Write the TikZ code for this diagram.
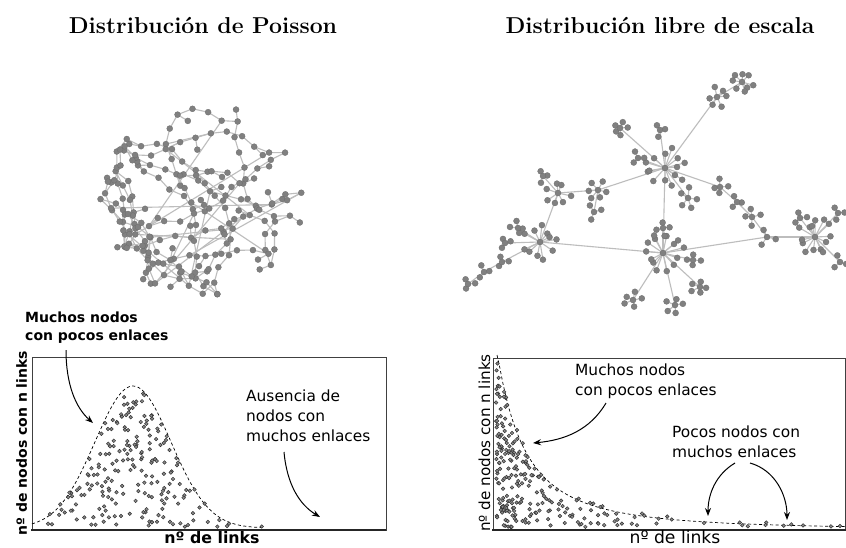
\documentclass[tikz,border=0pt]{standalone}
\usepackage{fontspec}
\setsansfont{DejaVu Sans}
\usetikzlibrary{arrows.meta}
\definecolor{netgray}{HTML}{808080}
\definecolor{linkgray}{HTML}{BDBDBD}
\definecolor{dotgray}{HTML}{8C8C8C}
\pgfdeclarelayer{paper}
\pgfdeclarelayer{edges}
\pgfsetlayers{paper,edges,main}

\tikzset{
  vert/.style={circle, fill=netgray, draw=netgray!85!black, line width=0.3pt,
               minimum size=6pt, inner sep=0pt},
  link/.style={draw=linkgray, line width=1.1pt},
  pdot/.style={fill=dotgray, draw=black!80, line width=0.5pt},
  trend/.style={black, line width=0.7pt, dash pattern=on 3pt off 2.5pt},
  frame/.style={draw=black!75, line width=0.8pt},
  xaxis/.style={draw=black!85, line width=2pt},
  callout/.style={-{Stealth[length=8pt,width=6pt]}, line width=1pt, black},
  title/.style={font={\bfseries\fontsize{23}{27}\selectfont}, inner sep=0pt},
  boldnote/.style={font={\sffamily\bfseries\fontsize{14}{17.5}\selectfont},
                   align=left, inner sep=0pt},
  note/.style={font={\sffamily\fontsize{15.4}{20}\selectfont},
               align=left, inner sep=0pt},
  axlabb/.style={font={\sffamily\bfseries\fontsize{15.8}{18}\selectfont}, inner sep=0pt},
  ylabb/.style={font={\sffamily\bfseries\fontsize{14}{17}\selectfont}, inner sep=0pt},
  axlab/.style={font={\sffamily\fontsize{17.2}{20}\selectfont}, inner sep=0pt},
  ylab/.style={font={\sffamily\fontsize{15.2}{18}\selectfont}, inner sep=0pt}
}

\begin{document}
\begin{tikzpicture}[x=1pt, y=-1pt]
  \useasboundingbox (0,0) rectangle (846,547);
  \begin{pgfonlayer}{paper}
    \fill[white] (0,0) rectangle (846,547);
  \end{pgfonlayer}

  % titles
  \node[title, anchor=base] (tpois) at (203,33) {Distribución de Poisson};
  \node[title, anchor=base] (tfree) at (660,33) {Distribución libre de escala};

  % ---- random network (Poisson): a few wandering chains ----
  \pgfmathsetseed{47}
  \xdef\wx{203}\xdef\wy{198}\xdef\wa{30}
  \foreach \i in {1,...,174}{
    \pgfmathtruncatemacro\fresh{mod(\i,58)==1}
    \ifnum\fresh=1
      \pgfmathsetmacro\tx{203+70*rand}\pgfmathsetmacro\ty{198+65*rand}
      \pgfmathsetmacro\ta{rnd*360}
    \else
      \pgfmathsetmacro\ta{\wa+rand*40}
      \pgfmathsetmacro\tx{\wx+16*cos(\ta)}
      \pgfmathsetmacro\ty{\wy+16*sin(\ta)}
      \pgfmathtruncatemacro\far{((\tx-203)/103)^2+((\ty-198)/97)^2>1}
      \ifnum\far=1
        \pgfmathsetmacro\ta{atan2(198-\wy,203-\wx)+rand*75}
        \pgfmathsetmacro\tx{\wx+16*cos(\ta)}
        \pgfmathsetmacro\ty{\wy+16*sin(\ta)}
      \fi
    \fi
    \coordinate (pn\i) at (\tx,\ty);
    \xdef\wx{\tx}\xdef\wy{\ty}\xdef\wa{\ta}
  }
  \begin{pgfonlayer}{edges}
    \foreach \i [remember=\i as \j (initially 1)] in {2,...,174}
      \draw[link] (pn\j) -- (pn\i);
    \foreach \k in {1,...,14}{
      \pgfmathtruncatemacro\a{random(1,174)}
      \pgfmathtruncatemacro\b{random(1,174)}
      \draw[link] (pn\a) -- (pn\b);
    }
  \end{pgfonlayer}
  \foreach \i in {3,7,...,174}{
    \pgfmathsetmacro\ang{rnd*360}
    \path (pn\i) ++(\ang:12) coordinate (pl\i);
    \begin{pgfonlayer}{edges}\draw[link] (pn\i) -- (pl\i);\end{pgfonlayer}
    \node[vert] (vl\i) at (pl\i) {};
  }
  \foreach \i in {1,...,174}
    \node[vert] (v\i) at (pn\i) {};

  % ---- scale-free network ----
  \foreach \nm/\cx/\cy in {A/665/168, B/663/253, C/540/242, D/815/237,
      E/558/193, F/598/190, G/717/97, H/742/82, I/767/237, J/752/217,
      K/737/202, L/720/187, A1/620/128, A2/660/130, A3/688/198, A4/638/158,
      B1/633/300, B2/675/305, B3/700/287, B4/693/260, B5/663/228,
      C1/502/262, C2/484/272, C3/468/284, C4/518/228, C5/505/243,
      E1/543/176, F1/594/212, D1/838/213, D2/840/262, D3/800/218}
    \coordinate (\nm) at (\cx,\cy);
  \begin{pgfonlayer}{edges}
    \foreach \a/\b in {A/B, A/F, F/E, E/C, C/B, B/I, I/D, I/J, J/K, K/L,
        L/A, A/G, G/H, A/A1, A/A2, A/A3, A/A4, B/B1, B/B2, B/B3, B/B4,
        B/B5, C/C1, C1/C2, C2/C3, C/C4, C/C5, E/E1, F/F1, D/D1, D/D2, D/D3}
      \draw[link] (\a) -- (\b);
  \end{pgfonlayer}
  \pgfmathsetseed{5}
  \foreach \nm/\k/\rr in {A/14/18, B/14/18, C/11/15, D/14/17, E/7/12,
      F/6/11, G/6/9, H/8/10, I/3/8, J/4/8, K/3/7, L/4/8, A1/5/8, A2/3/7,
      A3/5/9, A4/3/7, B1/5/8, B2/5/8, B3/5/8, B4/4/7, B5/4/7, C1/3/6,
      C2/3/6, C3/3/6, C4/4/7, C5/3/6, E1/3/6, F1/3/7, D1/3/7, D2/3/7, D3/3/6}{
    \foreach \j in {1,...,\k}{
      \pgfmathsetmacro\ang{\j*360/\k+rand*18}
      \pgfmathsetmacro\len{\rr*(0.65+0.55*rnd)}
      \path (\nm) ++(\ang:\len) coordinate (\nm-\j);
      \begin{pgfonlayer}{edges}\draw[link] (\nm) -- (\nm-\j);\end{pgfonlayer}
      \node[vert] (\nm v\j) at (\nm-\j) {};
    }
    \node[vert] (\nm v) at (\nm) {};
  }

  % ---- Poisson degree plot ----
  \draw[frame] (32,530) rectangle (386,357);
  \draw[xaxis] (31,530) -- (386,530);
  \draw[trend] plot[domain=32:265, samples=80] (\x,{528-142*exp(-((\x-133)/38)^2/2)});
  \pgfmathsetseed{9}
  \foreach \i in {1,...,450}{
    \pgfmathsetmacro\dx{48+rnd*215}
    \pgfmathsetmacro\dy{rnd*142}
    \pgfmathtruncatemacro\ok{\dy<142*exp(-((\dx-133)/38)^2/2)}
    \ifnum\ok=1 \fill[pdot] (\dx,{527-\dy}) circle[radius=1.8pt]; \fi
  }
  \node[boldnote, anchor=north west] (manyL) at (25,312) {Muchos nodos\\con pocos enlaces};
  \node[note, anchor=north west] (absent) at (246,390) {Ausencia de\\nodos con\\muchos enlaces};
  \node[axlabb, anchor=base] (xlabL) at (212,543) {nº de links};
  \node[ylabb, anchor=base, rotate=90] (ylabL) at (27,443) {nº de nodos con n links};
  \coordinate (mL0) at (66,350);
  \coordinate (mL1) at (93,423);
  \coordinate (aL0) at (284,452);
  \coordinate (aL1) at (320,517);
  \draw[callout] (mL0) .. controls (66,385) and (76,408) .. (mL1);
  \draw[callout] (aL0) .. controls (287,485) and (300,505) .. (aL1);

  % ---- scale-free degree plot ----
  \draw[frame] (493,530) rectangle (845,358);
  \draw[xaxis] (492,530) -- (846,530);
  \draw[trend] plot[domain=497:845, samples=120] (\x,{530-min(175,133*(65/(\x-441))^2)});
  \pgfmathsetseed{13}
  \foreach \i in {1,...,240}{
    \pgfmathsetmacro\dx{441+1000/sqrt(330.6-rnd*324.5)}
    \pgfmathsetmacro\dh{min(168,133*(65/(\dx-441))^2)}
    \pgfmathsetmacro\dy{527-rnd*\dh}
    \fill[pdot] (\dx,\dy) circle[radius=1.8pt];
  }
  \node[note, anchor=north west] (manyR) at (575,364) {Muchos nodos\\con pocos enlaces};
  \node[note, anchor=north west] (fewR) at (672,426) {Pocos nodos con\\muchos enlaces};
  \node[axlab, anchor=base] (xlabR) at (675,543) {nº de links};
  \node[ylab, anchor=base, rotate=90] (ylabR) at (490,443) {nº de nodos con n links};
  \coordinate (mR0) at (606,403);
  \coordinate (mR1) at (533,443);
  \coordinate (fR0) at (735,463);
  \coordinate (fR1) at (708,516);
  \coordinate (fR2) at (750,463);
  \coordinate (fR3) at (787,520);
  \draw[callout] (mR0) .. controls (590,430) and (565,440) .. (mR1);
  \draw[callout] (fR0) .. controls (715,475) and (708,495) .. (fR1);
  \draw[callout] (fR2) .. controls (775,470) and (787,495) .. (fR3);
\end{tikzpicture}
\end{document}
